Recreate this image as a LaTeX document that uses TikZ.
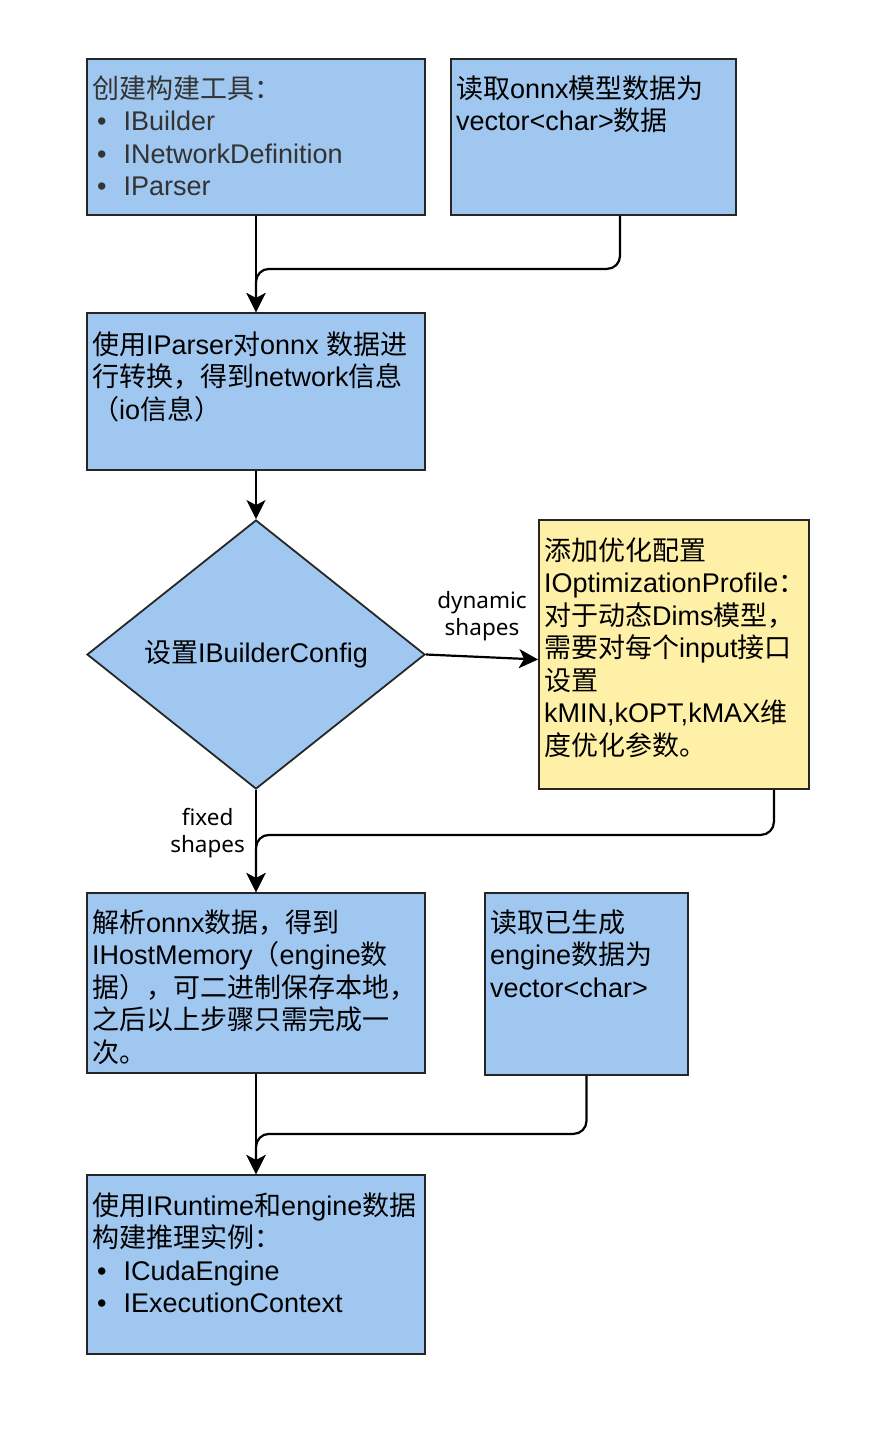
\documentclass[tikz,border=0pt]{standalone}
\usepackage{fontspec}
\usepackage{tikz}
\setmainfont{Liberation Sans}
\newfontfamily\cjk{Noto Sans CJK SC}
\newfontfamily\labelfont{Noto Sans}
\usetikzlibrary{arrows.meta,shapes.geometric}

\definecolor{boxblue}{RGB}{160,199,240}
\definecolor{boxyellow}{RGB}{255,240,168}

% switch to the CJK family for Chinese characters
\newcommand\latinfont{\rmfamily}
\newcommand\lblfont{\XeTeXinterchartokenstate=0\relax\labelfont\fontsize{22.5}{27}\selectfont}
\XeTeXinterchartokenstate=1
\newXeTeXintercharclass\CJKcls
\newcount\cjkidx
\cjkidx="3000
\loop\ifnum\cjkidx<"3040
  \XeTeXcharclass\cjkidx=\CJKcls
  \advance\cjkidx by 1
\repeat
\cjkidx="4E00
\loop\ifnum\cjkidx<"A000
  \XeTeXcharclass\cjkidx=\CJKcls
  \advance\cjkidx by 1
\repeat
\cjkidx="FF00
\loop\ifnum\cjkidx<"FFF0
  \XeTeXcharclass\cjkidx=\CJKcls
  \advance\cjkidx by 1
\repeat
\XeTeXinterchartoks 0 \CJKcls = {\cjk}
\XeTeXinterchartoks 4095 \CJKcls = {\cjk}
\XeTeXinterchartoks \CJKcls 0 = {\latinfont}
\XeTeXinterchartoks 4095 0 = {\latinfont}

\newcommand\itm{\hspace*{5pt}\textbullet\hspace{17pt}}

\begin{document}
\begin{tikzpicture}[x=1pt,y=-1pt,
    box/.style={draw=black!85,line width=1.8pt,fill=boxblue,inner sep=0pt},
    txt/.style={anchor=base west,inner sep=0pt,align=left,font=\fontsize{27}{32.5}\selectfont},
    flow/.style={line width=2.2pt,rounded corners=13pt,-{Stealth[length=19pt,width=19pt,inset=5pt]}},
    lbl/.style={inner sep=0pt,align=center,font=\lblfont}]
  \useasboundingbox (0,0) rectangle (870,1435);

  % boxes
  \node[box,minimum width=338pt,minimum height=156pt] (A) at (256,137) {};
  \node[box,minimum width=285pt,minimum height=156pt] (B) at (593.5,137) {};
  \node[box,minimum width=338pt,minimum height=157pt] (C) at (256,391.5) {};
  \node[box,shape=diamond,aspect=1.256,minimum width=338pt,minimum height=269pt,
        font=\fontsize{27}{32.5}\selectfont] (dia) at (256,654.5) {设置IBuilderConfig};
  \node[box,fill=boxyellow,minimum width=270pt,minimum height=269pt] (D) at (674,654.5) {};
  \node[box,minimum width=338pt,minimum height=180pt] (E) at (256,983) {};
  \node[box,minimum width=203pt,minimum height=182pt] (F) at (586.5,984) {};
  \node[box,minimum width=338pt,minimum height=179pt] (G) at (256,1264.5) {};

  % texts (anchored at the baseline of the last line)
  \node[txt,text=black!80] (At) at (92,195.5) {创建构建工具：\\
    \itm IBuilder\\
    \itm INetworkDefinition\\
    \itm IParser};
  \node[txt] (Bt) at (456,130.5) {读取onnx模型数据为\\vector<char>数据};
  \node[txt] (Ct) at (92,419) {使用IParser对onnx 数据进\\行转换，得到network信息\\（io信息）};
  \node[txt] (Dt) at (544,755) {添加优化配置\\IOptimizationProfile：\\对于动态Dims模型，\\需要对每个input接口\\设置\\kMIN,kOPT,kMAX维\\度优化参数。};
  \node[txt] (Et) at (92,1062) {解析onnx数据，得到\\IHostMemory（engine数\\据），可二进制保存本地，\\之后以上步骤只需完成一\\次。};
  \node[txt] (Ft) at (490,997) {读取已生成\\engine数据为\\vector<char>};
  \node[txt] (Gt) at (92,1312.5) {使用IRuntime和engine数据\\构建推理实例：\\
    \itm ICudaEngine\\
    \itm IExecutionContext};

  % connectors
  \draw[flow] (A) -- (C);
  \draw[flow] ([xshift=26.5pt]B.south) -- ++(0,53) -| (C.north);
  \draw[flow] (C) -- (dia);
  \draw[flow] (dia.east) -- node[lbl,above=15pt] {dynamic\\shapes} ([yshift=-5pt]D.west);
  \draw[flow] (dia) -- node[lbl,pos=0.42,left=10pt] {fixed\\shapes} (E);
  \draw[flow] ([xshift=-36pt]D.south east) -- ++(0,45) -| (E.north);
  \draw[flow] (E) -- (G);
  \draw[flow] (F.south) -- ++(0,58) -| (G.north);
\end{tikzpicture}
\end{document}
